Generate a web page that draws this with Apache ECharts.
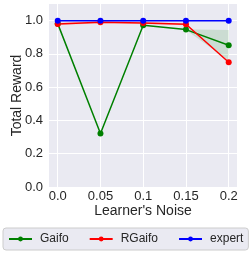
<!DOCTYPE html>
<html><head><meta charset="utf-8">
<script src="https://cdn.jsdelivr.net/npm/echarts@6/dist/echarts.min.js"></script>
<style>html,body{margin:0;padding:0;background:#fff}#c{width:249px;height:253px}</style>
</head><body><div id="c"></div>
<script>
const noise = [0.0, 0.05, 0.1, 0.15, 0.2];
const xTickLabels = ['0.0', '0.05', '0.1', '0.15', '0.2'];
const yTicks = [0, 0.2, 0.4, 0.6, 0.8, 1.0];
const yTickLabels = ['0.0', '0.2', '0.4', '0.6', '0.8', '1.0'];
const gaifo = [0.982, 0.321, 0.972, 0.946, 0.852];
const gaifoLow = [0.982, 0.321, 0.972, 0.944, 0.76];
const gaifoHigh = [0.982, 0.321, 0.972, 0.948, 0.944];
const rgaifo = [0.980, 0.990, 0.986, 0.978, 0.750];
const rgaifoLow = [0.972, 0.984, 0.980, 0.972, 0.750];
const rgaifoHigh = [0.988, 0.996, 0.992, 0.984, 0.750];
const expert = [1.0, 1.0, 1.0, 1.0, 1.0];

const pairs = a => noise.map((x, i) => [x, a[i]]);
const font = 'Liberation Sans';

function band(lo, hi, color) {
  return {
    type: 'custom', silent: true, z: 1,
    data: noise.map((x, i) => [x, lo[i], hi[i]]),
    encode: {x: 0, y: [1, 2]},
    renderItem: function (params, api) {
      if (params.dataIndex !== 0) return null;
      const up = noise.map((x, i) => api.coord([x, hi[i]]));
      const dn = noise.map((x, i) => api.coord([x, lo[i]])).reverse();
      return {type: 'polygon', shape: {points: up.concat(dn)},
        style: {fill: color, opacity: 0.13, stroke: null}};
    }
  };
}
function mainLine(name, data, color) {
  return {name: name, type: 'line', data: pairs(data), symbol: 'circle', symbolSize: 6,
    itemStyle: {color: color}, lineStyle: {color: color, width: 1.5}, z: 3};
}

const chart = echarts.init(document.getElementById('c'), null, {renderer: 'canvas'});
chart.setOption({
  animation: false,
  backgroundColor: '#fff',
  grid: {left: 49, right: 12, top: 4, bottom: 66, show: true, backgroundColor: '#eaeaf2',
    borderWidth: 0, containLabel: false, outerBoundsMode: 'none'},
  xAxis: {
    type: 'value', min: -0.0102, max: 0.2097,
    name: "Learner's Noise", nameLocation: 'middle', nameGap: 17, nameMoveOverlap: false,
    nameTextStyle: {fontFamily: font, fontSize: 14, color: '#262626'},
    axisLine: {show: false}, axisTick: {show: false, customValues: noise},
    axisLabel: {customValues: noise, fontFamily: font, fontSize: 13, color: '#262626', margin: 3,
      formatter: v => xTickLabels[noise.findIndex(n => Math.abs(n - v) < 1e-9)]},
    splitLine: {show: true, lineStyle: {color: '#fff', width: 1}}
  },
  yAxis: {
    type: 'value', min: 0, max: 1.1,
    name: 'Total Reward', nameLocation: 'middle', nameGap: 25, nameMoveOverlap: false,
    nameTextStyle: {fontFamily: font, fontSize: 14, color: '#262626'},
    axisLine: {show: false}, axisTick: {show: false, customValues: yTicks},
    axisLabel: {customValues: yTicks, fontFamily: font, fontSize: 13, color: '#262626', margin: 6,
      formatter: v => yTickLabels[yTicks.findIndex(n => Math.abs(n - v) < 1e-9)]},
    splitLine: {show: true, lineStyle: {color: '#fff', width: 1}}
  },
  legend: {
    bottom: 3, left: 3, width: 240, itemWidth: 23, itemHeight: 6, itemGap: 20,
    padding: [5, 5, 5, 5],
    backgroundColor: '#eaeaf2', borderColor: '#cccccc', borderWidth: 1, borderRadius: 3,
    textStyle: {fontFamily: font, fontSize: 12, color: '#262626', padding: [0, 0, 0, 3]},
    data: ['Gaifo', 'RGaifo', 'expert']
  },
  series: [
    band(gaifoLow, gaifoHigh, '#008000'),
    band(rgaifoLow, rgaifoHigh, '#ff0000'),
    mainLine('Gaifo', gaifo, '#008000'),
    mainLine('RGaifo', rgaifo, '#ff0000'),
    mainLine('expert', expert, '#0000ff')
  ]
});
</script></body></html>
